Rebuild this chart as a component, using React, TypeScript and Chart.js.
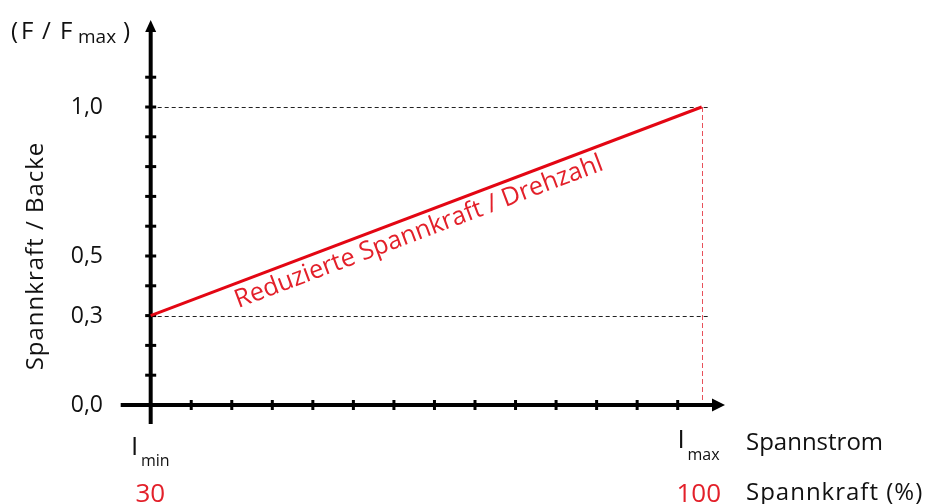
import React, { useEffect, useRef } from "react";
import { Chart, registerables } from "chart.js";

Chart.register(...registerables);

// ---- data ----
const clampingForcePercent = [30, 100];
const forceRatio = [0.3, 1.0];
const yLabelValues = [0, 0.3, 0.5, 1.0];
const yLabelTexts = ["0,0", "0,3", "0,5", "1,0"];
const yMinorTickValues = [0.1, 0.2, 0.3, 0.4, 0.5, 0.6, 0.7, 0.8, 0.9, 1.0, 1.1];
const xTickStep = 5.15;
const xTickCount = 13;
const guideLevels = [0.3, 1.0];
const percentLabels = ["30", "100"];
const currentSubscripts = ["min", "max"];
const lineLabel = "Reduzierte Spannkraft / Drehzahl";
const yAxisTitle = "Spannkraft / Backe";
const yUnitParts = ["(", "F", "/", "F", "max", ")"];
const xAxisTitleTop = "Spannstrom";
const xAxisTitleBottom = "Spannkraft (%)";

const X_MIN = 26.19;
const X_MAX = 102.96;
const Y_MIN = -0.0638;
const Y_MAX = 1.292;

const FONT = '"Open Sans", "Noto Sans", sans-serif';
const RED = "#e30613";
const RED_TEXT = "#e3202a";

function seg(ctx: CanvasRenderingContext2D, x1: number, y1: number, x2: number, y2: number) {
  ctx.beginPath();
  ctx.moveTo(x1, y1);
  ctx.lineTo(x2, y2);
  ctx.stroke();
}

const decor = {
  id: "decor",
  beforeDatasetsDraw(chart: any) {
    const { ctx, chartArea: a, scales } = chart;
    const x = scales.x;
    const y = scales.y;
    const x0 = x.getPixelForValue(clampingForcePercent[0]);
    const y0 = y.getPixelForValue(0);
    ctx.save();
    // dashed guides
    ctx.lineWidth = 1;
    ctx.strokeStyle = "#222";
    ctx.setLineDash([4, 3]);
    const gx = x.getPixelForValue(100.9);
    guideLevels.forEach((v) => {
      const py = Math.round(y.getPixelForValue(v)) + 0.5;
      seg(ctx, x0, py, gx, py);
    });
    ctx.strokeStyle = "#e8505a";
    ctx.setLineDash([5, 3]);
    const rx = Math.round(x.getPixelForValue(clampingForcePercent[1])) + 0.5;
    seg(ctx, rx, y.getPixelForValue(forceRatio[1]), rx, y0);
    ctx.setLineDash([]);
    // axes
    ctx.strokeStyle = "#000";
    ctx.fillStyle = "#000";
    ctx.lineWidth = 4;
    seg(ctx, x0, a.bottom, x0, a.top + 10);
    ctx.beginPath();
    ctx.moveTo(x0, a.top);
    ctx.lineTo(x0 - 5.5, a.top + 12);
    ctx.lineTo(x0 + 5.5, a.top + 12);
    ctx.closePath();
    ctx.fill();
    seg(ctx, a.left, y0, a.right - 10, y0);
    ctx.beginPath();
    ctx.moveTo(a.right, y0);
    ctx.lineTo(a.right - 13, y0 - 6.5);
    ctx.lineTo(a.right - 13, y0 + 6.5);
    ctx.closePath();
    ctx.fill();
    // ticks
    ctx.lineWidth = 3;
    yMinorTickValues.forEach((v) => {
      const py = y.getPixelForValue(v);
      seg(ctx, x0 - 5.5, py, x0 + 5.5, py);
    });
    for (let k = 1; k <= xTickCount; k++) {
      const px = x.getPixelForValue(clampingForcePercent[0] + k * xTickStep);
      seg(ctx, px, y0 - 5, px, y0 + 5);
    }
    ctx.restore();
  },
  afterDatasetsDraw(chart: any) {
    const { ctx, scales } = chart;
    const x = scales.x;
    const y = scales.y;
    ctx.save();
    // y tick labels
    ctx.fillStyle = "#111";
    ctx.font = `23px ${FONT}`;
    ctx.textAlign = "right";
    ctx.textBaseline = "middle";
    yLabelValues.forEach((v, i) => {
      ctx.fillText(yLabelTexts[i], 103, y.getPixelForValue(v) + 0.5);
    });
    // y unit title
    ctx.textAlign = "left";
    ctx.textBaseline = "alphabetic";
    ctx.font = `24px ${FONT}`;
    ctx.fillText(yUnitParts[0], 11, 39);
    ctx.fillText(yUnitParts[1], 21, 39);
    ctx.fillText(yUnitParts[2], 42, 39);
    ctx.fillText(yUnitParts[3], 60, 39);
    ctx.font = `19px ${FONT}`;
    ctx.fillText(yUnitParts[4], 78, 43);
    ctx.font = `24px ${FONT}`;
    ctx.fillText(yUnitParts[5], 123, 39);
    // rotated y title
    ctx.save();
    ctx.translate(43, 256);
    ctx.rotate(-Math.PI / 2);
    ctx.textAlign = "center";
    ctx.font = `24px ${FONT}`;
    (ctx as any).letterSpacing = "1px";
    ctx.fillText(yAxisTitle, 0, 0);
    (ctx as any).letterSpacing = "0px";
    ctx.restore();
    // I_min / I_max
    ctx.textAlign = "left";
    ctx.font = `26px ${FONT}`;
    ctx.fillText("I", 131, 455);
    ctx.fillText("I", 677.5, 448);
    ctx.font = `16px ${FONT}`;
    ctx.fillText(currentSubscripts[0], 141, 466);
    ctx.fillText(currentSubscripts[1], 687.5, 460);
    // axis titles
    ctx.font = `24px ${FONT}`;
    ctx.fillText(xAxisTitleTop, 746, 450);
    (ctx as any).letterSpacing = "1px";
    ctx.fillText(xAxisTitleBottom, 746, 500);
    (ctx as any).letterSpacing = "0px";
    // percent labels
    ctx.fillStyle = RED_TEXT;
    ctx.font = `26px ${FONT}`;
    ctx.textAlign = "left";
    ctx.fillText(percentLabels[0], 135.5, 502);
    ctx.fillText(percentLabels[1], 676.5, 502);
    // line label
    const p1x = x.getPixelForValue(clampingForcePercent[0]);
    const p1y = y.getPixelForValue(forceRatio[0]);
    const p2x = x.getPixelForValue(clampingForcePercent[1]);
    const p2y = y.getPixelForValue(forceRatio[1]);
    const ang = Math.atan2(p2y - p1y, p2x - p1x);
    const t = 0.1436;
    ctx.save();
    ctx.translate(p1x + t * (p2x - p1x), p1y + t * (p2y - p1y));
    ctx.rotate(ang);
    ctx.font = `25.3px ${FONT}`;
    ctx.fillText(lineLabel, 0, 24);
    ctx.restore();
    ctx.restore();
  },
};

export default function App() {
  const ref = useRef<HTMLCanvasElement | null>(null);
  useEffect(() => {
    if (!ref.current) return;
    const chart = new Chart(ref.current, {
      type: "line",
      data: {
        datasets: [
          {
            data: clampingForcePercent.map((v, i) => ({ x: v, y: forceRatio[i] })),
            borderColor: RED,
            borderWidth: 3,
            pointRadius: 0,
            fill: false,
            tension: 0,
          },
        ],
      },
      options: {
        animation: false,
        responsive: false,
        devicePixelRatio: 1,
        layout: { padding: { left: 120.7, top: 20, right: 210, bottom: 80 } },
        plugins: { legend: { display: false }, tooltip: { enabled: false } },
        events: [],
        scales: {
          x: { type: "linear", min: X_MIN, max: X_MAX, display: false },
          y: { type: "linear", min: Y_MIN, max: Y_MAX, display: false },
        },
      },
      plugins: [decor],
    });
    return () => chart.destroy();
  }, []);
  return (
    <div style={{ position: "absolute", left: 0, top: 0, width: 935, height: 504, background: "#fff" }}>
      <canvas ref={ref} width={935} height={504} style={{ display: "block" }} />
    </div>
  );
}
